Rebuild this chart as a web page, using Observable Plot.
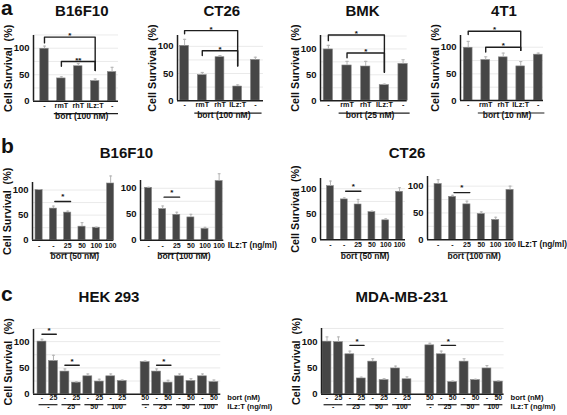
<!DOCTYPE html>
<html><head><meta charset="utf-8">
<script src="https://cdn.jsdelivr.net/npm/d3@7"></script>
<script src="https://cdn.jsdelivr.net/npm/@observablehq/plot@0.6"></script>
<style>
html,body{margin:0;padding:0;background:#fff;}
#fig{position:relative;width:567px;height:415px;overflow:hidden;background:#fff;font-family:"Liberation Sans",Arial,Helvetica,sans-serif;font-weight:bold;color:#111;}
.t{position:absolute;transform:translate(-50%,-50%);line-height:1;white-space:nowrap;font-size:15px;}
.L{position:absolute;line-height:0.8;font-size:21px;}
#fig svg{position:absolute;overflow:visible;max-width:none;}
</style></head><body><div id="fig"></div>
<script>
// ---------- DATA ----------
// Panel a
const aCats = ["-", "rmT", "rhT", "ILz:T", "-"];
const aB16F10 = [99, 43, 66, 38, 55];
const aB16F10Err = [5, 3, 5, 4, 9];
const aCT26 = [101, 47, 80, 26, 75];
const aCT26Err = [12, 5, 3, 3, 5];
const aBMK = [99, 68, 66, 30, 71];
const aBMKErr = [8, 8, 10, 2, 8];
const a4T1 = [99, 76, 81, 64, 86];
const a4T1Err = [12, 6, 8, 9, 3];
const aB16F10Sig = [{from:0,to:3,y:121,left:110,right:58,label:"*"},{from:1,to:3,y:75,left:66,right:58,label:"**"}];
const aCT26Sig = [{from:0,to:3,y:129,left:123,right:64,label:"*"},{from:1,to:3,y:92,left:83,right:64,label:"*"}];
const aBMKSig = [{from:0,to:3,y:127,left:116,right:55,label:"*"},{from:1,to:3,y:92,left:83,right:55,label:"*"}];
const a4T1Sig = [{from:0,to:3,y:130,left:124,right:94,label:"*"},{from:1,to:3,y:100,left:91,right:94,label:"*"}];
const aBort = ["bort (100 nM)", "bort (100 nM)", "bort (25 nM)", "bort (10 nM)"];
const aTitles = ["B16F10", "CT26", "BMK", "4T1"];

// Panel b
const bCats = ["-", "-", "25", "50", "100", "100"];
const bB16F10_50 = [100, 63, 55, 27, 25, 113];
const bB16F10_50Err = [1, 5, 3, 8, 1, 15];
const bB16F10_100 = [101, 60, 49, 44, 22, 114];
const bB16F10_100Err = [1, 6, 5, 6, 3, 14];
const bCT26_50 = [105, 79, 69, 54, 38, 94];
const bCT26_50Err = [10, 3, 10, 2, 3, 8];
const bCT26_100 = [104, 80, 66, 48, 37, 93];
const bCT26_100Err = [8, 3, 6, 4, 5, 7];
const bSigY = [77, 83, 95, 88];
const bBort = ["bort (50 nM)", "bort (100 nM)", "bort (50 nM)", "bort (100 nM)"];
const bTitles = ["B16F10", "CT26"];

// Panel c
const cBort = ["-","25","-","25","-","25","-","25","50","-","50","-","50","-","50"];
const cILz = [{from:0,to:1,label:"-"},{from:2,to:3,label:"25"},{from:4,to:5,label:"50"},{from:6,to:7,label:"100"},
              {from:8,to:8,label:"-"},{from:9,to:10,label:"25"},{from:11,to:12,label:"50"},{from:13,to:14,label:"100"}];
const cHEK = [100, 63, 43, 22, 34, 24, 34, 25, 61, 43, 22, 34, 25, 34, 23];
const cHEKErr = [4.5, 11, 5, 1.5, 4.5, 4.5, 4.5, 2, 2, 5, 4.5, 4.5, 4.5, 4.5, 4];
const cMDA = [100, 99, 76, 30, 62, 27, 49, 28.5, 93, 76, 23, 62, 27, 49, 24];
const cMDAErr = [9, 10, 6, 2.5, 5.5, 2.5, 4.5, 4.5, 4, 6, 2, 5.5, 1.5, 5.5, 1.5];
const cHEKSig = [{from:0,to:1,y:114},{from:2,to:3,y:55},{from:9,to:10,y:55}];
const cMDASig = [{from:2,to:3,y:93},{from:9,to:10,y:93}];
const cTitles = ["HEK 293", "MDA-MB-231"];

const yLabel = "Cell Survival\u00a0\u00a0(%)";
const yTicks = [0, 50, 100];
const gridTicks = [25, 50, 75, 100, 125];

// ---------- LAYOUT ----------
const fig = document.getElementById("fig");
const ML = 44, MR = 76, MT = 26, MB = 32;
const FONT = '"Liberation Sans", Arial, Helvetica, sans-serif';

function drawPanel(s) {
  const ppu = (s.y0 - s.y100) / 100;
  const frameTop = s.y0 - ppu * s.ymax;
  const W = ML + (s.right - s.left) + MR;
  const H = MT + (s.y0 - frameTop) + MB;
  const slot = k => (s.gap != null && k >= s.gap) ? k + 1 : k;
  const bars = s.values.map((v, k) => ({x: slot(k), v, e: s.errs[k], cat: s.cats[k]}));
  const sigPts = s.sig.flatMap((d, k) => {
    const xa = slot(d.from) + s.sigPad[0], xb = slot(d.to) + s.sigPad[1];
    const l = d.left ?? d.y, r = d.right ?? d.y;
    return [{id:k,x:xa,y:l},{id:k,x:xa,y:d.y},{id:k,x:xb,y:d.y},{id:k,x:xb,y:r}];
  });
  const stars = s.sig.map(d => ({x: (slot(d.from) + s.sigPad[0] + slot(d.to) + s.sigPad[1]) / 2, y: d.y, t: d.label ?? "*"}));
  const groups = s.groups.map(g => ({x1: slot(g.from) - s.ulPad[0], x2: slot(g.to) + s.ulPad[1], xm: (slot(g.from) + slot(g.to)) / 2, label: g.label}));
  const marks = [
    Plot.ruleY(gridTicks.filter(t => t <= s.ymax + 2), {stroke: "#e4e4e4", strokeWidth: 0.8}),
    Plot.rectY(bars, {x1: d => d.x - s.half, x2: d => d.x + s.half, y1: 0, y2: "v", fill: "#464646", stroke: "#8a8a8a", strokeWidth: 0.6}),
    Plot.ruleX(bars, {x: "x", y1: "v", y2: d => d.v + d.e, stroke: "#b4b4b4", strokeWidth: 1}),
    Plot.link(bars, {x1: d => d.x - s.cap, x2: d => d.x + s.cap, y1: d => d.v + d.e, y2: d => d.v + d.e, stroke: "#b4b4b4", strokeWidth: 1}),
    Plot.ruleX([s.xdom[0]], {y1: 0, y2: s.ymax, stroke: "#1e1e1e", strokeWidth: 1.5}),
    Plot.ruleY([0], {stroke: "#1e1e1e", strokeWidth: 1.5}),
    Plot.axisY({ticks: yTicks, tickSize: 0, tickPadding: 4, fontSize: 9.5, fontWeight: "bold", label: null}),
    Plot.line(sigPts, {x: "x", y: "y", z: "id", stroke: "#1e1e1e", strokeWidth: 1.4}),
    Plot.text(stars, {x: "x", y: "y", text: "t", dy: s.starDy, fontSize: 8, fontWeight: "bold"}),
    Plot.text(bars, {x: "x", text: "cat", frameAnchor: "bottom", dy: s.rows[0], fontSize: s.fsCat, fontWeight: "bold"}),
    Plot.link(groups, {x1: "x1", x2: "x2", y1: 0, y2: 0, dy: s.rows[1], stroke: "#1e1e1e", strokeWidth: 1.2}),
    Plot.text(groups, {x: d => d.xm + s.glShift, text: "label", frameAnchor: "bottom", dy: s.rows[2], dx: s.glDx, fontSize: s.fsGroup, fontWeight: "bold"})
  ];
  if (!s.noLabel) {
    marks.push(Plot.axisY({ticks: [], label: yLabel, labelAnchor: "center", labelArrow: "none", labelOffset: s.labelOffset,
      dy: s.labelDy, fontSize: 10.8, fontWeight: "bold"}));
  }
  (s.right_labels || []).forEach(r => {
    marks.push(Plot.text([r.text], {text: d => d, frameAnchor: "bottom-right", textAnchor: "start", dx: r.dx, dy: r.dy, fontSize: s.fsRight, fontWeight: "bold"}));
  });
  const svg = Plot.plot({
    width: W, height: H, marginLeft: ML, marginRight: MR, marginTop: MT, marginBottom: MB,
    x: {domain: s.xdom, axis: null},
    y: {domain: [0, s.ymax]},
    style: {fontFamily: FONT, fontWeight: "bold", fontSize: "10.8px", color: "#111", background: "transparent", overflow: "visible"},
    marks
  });
  svg.style.left = (s.left - ML) + "px";
  svg.style.top = (frameTop - MT) + "px";
  fig.appendChild(svg);
}

const aCommon = {cats: aCats, half: 0.25, cap: 0.09, sigPad: [0, 0], ulPad: [0.45, 0.35], glShift: 0, glDx: -5,
  fsCat: 7.2, fsGroup: 8.5, fsRight: 8.5, rows: [6.5, 12.5, 17.5], starDy: -1.5, labelOffset: 29, labelDy: 0};
const aFrames = [
  {left: 33, right: 118, y0: 100.5, y100: 47.5, ymax: 124, xdom: [-0.65, 4.38]},
  {left: 177, right: 263, y0: 100, y100: 45.7, ymax: 120, xdom: [-0.4, 4.46]},
  {left: 320, right: 406.7, y0: 100, y100: 48.3, ymax: 126, xdom: [-0.42, 4.22]},
  {left: 460, right: 543, y0: 100, y100: 46.7, ymax: 122, xdom: [-0.44, 4.3]}
];
const aVals = [aB16F10, aCT26, aBMK, a4T1];
const aErrs = [aB16F10Err, aCT26Err, aBMKErr, a4T1Err];
const aSigs = [aB16F10Sig, aCT26Sig, aBMKSig, a4T1Sig];
aFrames.forEach((f, i) => drawPanel({...aCommon, ...f, values: aVals[i], errs: aErrs[i], sig: aSigs[i], groups: [{from: 1, to: 4, label: aBort[i]}]}));

const bCommon = {cats: bCats, half: 0.25, cap: 0.1, sigPad: [0.1, 0.2], ulPad: [0.25, 0.2], glShift: 0, glDx: 0,
  fsCat: 7, fsGroup: 8.5, fsRight: 8.3, rows: [7.5, 13, 19], starDy: -5, labelOffset: 29, labelDy: -5};
const bFrames = [
  {left: 31.7, right: 113, y0: 239.5, y100: 189.3, ymax: 115, xdom: [-0.46, 5.22]},
  {left: 140, right: 223.3, y0: 240, y100: 188, ymax: 115, xdom: [-0.57, 5.33], noLabel: true, right_labels: [{text: "ILz:T (ng/ml)", dx: 4, dy: 7.5}]},
  {left: 320, right: 405, y0: 239.3, y100: 188.3, ymax: 120, xdom: [-0.72, 5.43]},
  {left: 426.7, right: 513, y0: 239.3, y100: 185.7, ymax: 118, xdom: [-0.74, 5.26], noLabel: true, right_labels: [{text: "ILz:T (ng/ml)", dx: 4, dy: 7.5}]}
];
const bVals = [bB16F10_50, bB16F10_100, bCT26_50, bCT26_100];
const bErrs = [bB16F10_50Err, bB16F10_100Err, bCT26_50Err, bCT26_100Err];
bFrames.forEach((f, i) => drawPanel({...bCommon, ...f, values: bVals[i], errs: bErrs[i], sig: [{from: 1, to: 2, y: bSigY[i]}], groups: [{from: 1, to: 4, label: bBort[i]}]}));

const cCommon = {cats: cBort, gap: 8, half: 0.39, cap: 0.13, sigPad: [0, 0.25], ulPad: [0.3, 0.35], glShift: 0.05, glDx: 0,
  fsCat: 7, fsGroup: 7, fsRight: 7.6, rows: [6, 10.5, 14.5], starDy: -3.5, labelOffset: 29, labelDy: -8,
  right_labels: [{text: "bort (nM)", dx: 6.5, dy: 6}, {text: "ILz:T (ng/ml)", dx: 6.5, dy: 14.5}]};
drawPanel({...cCommon, left: 32.7, right: 220, y0: 393.3, y100: 340.7, ymax: 123, xdom: [-0.74, 15.6], values: cHEK, errs: cHEKErr, sig: cHEKSig, groups: cILz});
drawPanel({...cCommon, left: 320.7, right: 503.3, y0: 393.3, y100: 340.7, ymax: 125, xdom: [-0.48, 15.5], values: cMDA, errs: cMDAErr, sig: cMDASig, groups: cILz});

// ---------- TITLES ----------
function addText(cls, text, x, y) {
  const d = document.createElement("div");
  d.className = cls; d.textContent = text;
  d.style.left = x + "px"; d.style.top = y + "px";
  fig.appendChild(d);
}
[[81.8, 9.8], [221.8, 9.8], [362.6, 9.8], [504, 9.8]].forEach((p, i) => addText("t", aTitles[i], p[0], p[1]));
[[126.4, 152], [407, 152]].forEach((p, i) => addText("t", bTitles[i], p[0], p[1]));
[[109, 296], [401.7, 296]].forEach((p, i) => addText("t", cTitles[i], p[0], p[1]));
addText("L", "a", 1, 0);
addText("L", "b", 1, 137.6);
addText("L", "c", 1, 286);
</script></body></html>
